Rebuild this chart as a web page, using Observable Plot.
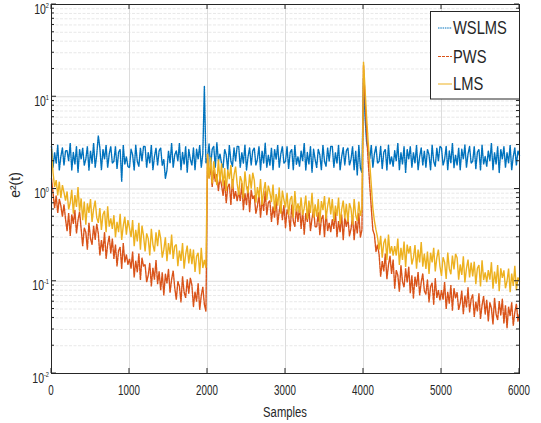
<!DOCTYPE html>
<html><head><meta charset="utf-8">
<script src="https://cdn.jsdelivr.net/npm/d3@7"></script>
<script src="https://cdn.jsdelivr.net/npm/@observablehq/plot@0.6"></script>
<style>
html,body{margin:0;padding:0;background:#fff;}
svg text{font-family:"Liberation Sans",Arial,Helvetica,sans-serif;}
</style>
</head><body><div id="chart"></div>
<script>
// sample spacing of the values below
const step = 20;
// squared error e^2(t), one value every 20 samples (0..6000), 10 values per row
const wslms = [
 2.9,1.7,2.5,1.9,3.0,1.6,2.25,2.8,1.8,2.6,
 2.6,2.0,3.15,1.6,2.5,1.85,2.9,1.5,2.7,2.1,
 2.8,1.8,2.1,2.9,1.6,2.6,1.9,3.15,1.7,2.35,
 3.8,2.8,1.6,2.7,2.1,3.0,1.7,2.4,2.9,1.9,
 2.0,2.9,1.65,2.5,2.7,1.2,3.0,1.85,2.25,1.75,
 1.7,2.7,2.35,1.6,3.0,2.0,1.75,2.8,2.0,2.9,
 2.9,1.7,2.5,1.9,3.0,1.6,2.25,2.8,1.8,2.6,
 2.8,1.8,2.1,1.3,1.6,2.6,1.9,3.15,1.7,2.35,
 2.6,2.0,3.15,1.6,2.5,1.85,2.9,1.5,2.7,2.1,
 1.8,2.8,1.6,2.7,2.1,3.0,1.7,2.4,13.0,1.9,
 2.15,3.1,1.75,2.7,2.9,1.7,3.2,2.0,2.4,1.9,
 1.7,2.7,2.35,1.6,3.0,2.0,1.75,2.8,2.0,2.9,
 2.9,1.7,2.5,1.9,3.0,1.6,2.25,2.8,1.8,2.6,
 2.8,1.8,2.1,2.9,1.6,2.6,1.9,3.15,1.7,2.35,
 1.8,2.8,1.6,2.7,2.1,3.0,1.7,2.4,2.9,1.9,
 2.0,2.9,1.65,2.5,2.7,1.6,3.0,1.85,2.25,1.75,
 2.6,2.0,3.15,1.6,2.5,1.85,2.9,1.5,2.7,2.1,
 1.7,2.7,2.35,1.6,3.0,2.0,1.75,2.8,2.0,2.9,
 2.9,1.7,2.5,1.9,3.0,1.6,2.25,2.8,1.8,2.6,
 2.8,1.8,2.1,2.9,1.6,2.6,1.4,3.0,1.7,1.5,
 16.0,6.0,3.2,2.7,2.1,3.0,1.7,2.4,2.9,1.9,
 2.0,2.9,1.65,2.5,2.7,1.6,3.0,1.85,2.25,1.75,
 2.6,2.0,3.15,1.6,2.5,1.85,2.9,1.5,2.7,2.1,
 2.9,1.7,2.5,1.9,3.0,1.6,2.25,2.8,1.8,2.6,
 1.7,2.7,2.35,1.6,3.0,2.0,1.75,2.8,2.0,2.9,
 2.8,1.8,2.1,2.9,1.6,2.6,1.9,3.15,1.7,2.35,
 1.8,2.8,1.6,2.7,2.1,3.0,1.7,2.4,2.9,1.9,
 2.0,2.9,1.65,2.5,2.7,1.6,3.0,1.85,2.25,1.75,
 2.6,2.0,3.15,1.6,2.5,1.85,2.9,1.5,2.7,2.1,
 2.9,1.7,2.5,1.9,3.0,1.6,2.25,2.8,1.8,2.6,
 2.3
];
const pws = [
 1.3,0.9,0.62,0.85,0.55,0.78,0.66,0.5,0.68,0.47,
 0.35,0.55,0.31,0.53,0.42,0.59,0.33,0.46,0.57,0.37,
 0.24,0.38,0.34,0.22,0.43,0.29,0.25,0.40,0.28,0.42,
 0.33,0.19,0.28,0.21,0.34,0.175,0.25,0.31,0.2,0.29,
 0.175,0.25,0.145,0.215,0.235,0.137,0.26,0.16,0.195,0.152,
 0.175,0.137,0.21,0.11,0.167,0.125,0.2,0.103,0.18,0.145,
 0.152,0.098,0.116,0.158,0.088,0.14,0.104,0.17,0.093,0.128,
 0.08,0.125,0.07,0.12,0.095,0.135,0.075,0.105,0.13,0.085,
 0.063,0.1,0.088,0.059,0.113,0.076,0.066,0.105,0.074,0.109,
 0.091,0.053,0.077,0.06,0.095,0.049,0.07,0.087,0.056,0.047,
 2.4,1.3,1.75,1.05,1.6,1.2,1.45,0.95,1.35,1.1,
 0.85,1.24,0.7,1.05,1.14,0.67,1.28,0.78,0.95,0.74,
 0.94,0.74,1.15,0.59,0.9,0.67,1.07,0.56,0.98,0.78,
 0.85,0.54,0.65,0.88,0.49,0.78,0.58,0.95,0.52,0.71,
 0.75,0.44,0.64,0.49,0.78,0.41,0.58,0.73,0.46,0.67,
 0.38,0.6,0.53,0.35,0.68,0.45,0.39,0.63,0.44,0.65,
 0.37,0.58,0.32,0.55,0.44,0.62,0.35,0.48,0.6,0.39,
 0.39,0.56,0.32,0.47,0.52,0.3,0.58,0.35,0.43,0.34,
 0.47,0.37,0.57,0.3,0.45,0.34,0.53,0.28,0.49,0.39,
 0.49,0.31,0.37,0.51,0.28,0.45,0.33,0.55,0.3,0.36,
 22,9,4,2.0,1.1,0.62,0.36,0.32,0.21,0.25,
 0.195,0.112,0.165,0.128,0.2,0.105,0.15,0.188,0.12,0.172,
 0.083,0.132,0.116,0.077,0.149,0.099,0.086,0.138,0.097,0.143,
 0.074,0.116,0.065,0.112,0.088,0.126,0.07,0.098,0.121,0.079,
 0.072,0.104,0.059,0.088,0.096,0.056,0.108,0.066,0.08,0.062,
 0.08,0.063,0.098,0.05,0.077,0.057,0.091,0.048,0.084,0.066,
 0.076,0.049,0.058,0.079,0.044,0.07,0.052,0.085,0.046,0.064,
 0.072,0.041,0.06,0.047,0.074,0.039,0.055,0.069,0.044,0.063,
 0.037,0.059,0.051,0.034,0.066,0.044,0.038,0.061,0.043,0.064,
 0.035,0.055,0.031,0.053,0.042,0.059,0.033,0.046,0.057,0.037,
 0.045
];
const lms = [
 2.7,1.5,1.05,1.25,0.85,1.2,0.8,1.1,0.92,0.75,
 0.94,0.6,0.71,0.98,0.54,0.86,0.64,1.05,0.57,0.79,
 0.46,0.73,0.41,0.7,0.55,0.78,0.44,0.61,0.75,0.49,
 0.43,0.62,0.36,0.53,0.58,0.34,0.65,0.39,0.48,0.37,
 0.52,0.3,0.44,0.34,0.54,0.28,0.4,0.5,0.32,0.46,
 0.38,0.3,0.46,0.24,0.36,0.27,0.43,0.22,0.4,0.31,
 0.21,0.33,0.29,0.19,0.37,0.25,0.21,0.34,0.24,0.36,
 0.29,0.18,0.22,0.3,0.165,0.26,0.195,0.32,0.175,0.24,
 0.25,0.146,0.215,0.166,0.26,0.137,0.195,0.244,0.156,0.224,
 0.153,0.22,0.126,0.187,0.204,0.119,0.23,0.139,0.17,0.14,
 2.4,1.3,2.2,1.15,2.0,1.45,1.1,2.1,1.2,1.9,
 1.08,1.69,0.95,1.62,1.28,1.82,1.01,1.42,1.75,1.15,
 0.86,1.38,1.21,0.8,1.55,1.04,0.9,1.44,1.01,1.5,
 1.24,0.71,1.05,0.81,1.28,0.67,0.95,1.19,0.76,1.09,
 0.92,0.72,1.12,0.58,0.88,0.66,1.04,0.54,0.96,0.76,
 0.63,0.91,0.52,0.77,0.84,0.49,0.95,0.57,0.7,0.55,
 0.81,0.52,0.62,0.85,0.47,0.75,0.55,0.91,0.49,0.68,
 0.5,0.78,0.43,0.74,0.59,0.84,0.47,0.65,0.81,0.53,
 0.78,0.45,0.66,0.51,0.81,0.42,0.6,0.75,0.48,0.69,
 0.44,0.7,0.61,0.41,0.78,0.52,0.45,0.73,0.51,0.62,
 24,12,6,3.2,1.9,1.1,0.62,0.45,0.36,0.3,
 0.22,0.31,0.18,0.26,0.29,0.17,0.32,0.2,0.24,0.19,
 0.24,0.19,0.29,0.15,0.23,0.17,0.27,0.143,0.25,0.2,
 0.24,0.152,0.18,0.247,0.137,0.22,0.16,0.266,0.144,0.2,
 0.136,0.21,0.12,0.204,0.16,0.23,0.128,0.18,0.22,0.145,
 0.114,0.182,0.16,0.106,0.205,0.137,0.119,0.19,0.134,0.198,
 0.18,0.104,0.152,0.117,0.186,0.097,0.138,0.172,0.11,0.159,
 0.113,0.163,0.093,0.138,0.15,0.088,0.169,0.103,0.125,0.098,
 0.132,0.104,0.161,0.083,0.127,0.094,0.15,0.078,0.138,0.109,
 0.131,0.084,0.1,0.137,0.076,0.121,0.089,0.147,0.08,0.11,
 0.1
];
const seriesNames = ["WSLMS", "PWS", "LMS"];
const seriesColors = ["#0072BD", "#D95319", "#EDB120"];
const seriesDash = ["1.5,0.8", "3,1", null];
const xTicks = [0, 1000, 2000, 3000, 4000, 5000, 6000];
const yTicks = [0.01, 0.1, 1, 10, 100];
const yTickExps = ["-2", "-1", "0", "1", "2"];
const minorMultipliers = [2, 3, 4, 5, 6, 7, 8, 9];
const xLabel = "Samples";
const yLabel = "e²(t)";

const minorTicks = yTicks.slice(0, -1).flatMap(d => minorMultipliers.map(m => d * m));
const toRows = arr => arr.map((v, i) => ({x: i * step, y: v}));
const seriesData = [wslms, pws, lms].map(toRows);

const lineMarks = seriesData.map((rows, i) =>
  Plot.line(rows, {x: "x", y: "y", stroke: seriesColors[i], strokeWidth: 1.4,
    strokeDasharray: seriesDash[i] || undefined, strokeLinejoin: "miter"}));

const svgNode = Plot.plot({
  width: 541, height: 423,
  marginLeft: 51, marginRight: 22, marginTop: 4, marginBottom: 50,
  style: {background: "#fff", overflow: "visible"},
  x: {domain: [0, 6000], axis: null},
  y: {type: "log", domain: [0.01, 100], axis: null},
  marks: [
    Plot.ruleY(minorTicks, {stroke: "#e2e2e2", strokeDasharray: "3,1.5", strokeWidth: 0.8}),
    Plot.ruleY(yTicks, {stroke: "#dcdcdc", strokeWidth: 1}),
    Plot.ruleX(xTicks, {stroke: "#dcdcdc", strokeWidth: 1}),
    ...lineMarks,
    Plot.frame({stroke: "#262626", strokeWidth: 1})
  ]
});
document.getElementById("chart").appendChild(svgNode);

const xs = svgNode.scale("x"), ys = svgNode.scale("y");
const svg = d3.select(svgNode);
const L = xs.apply(0), R = xs.apply(6000), T = ys.apply(100), B = ys.apply(0.01);
const ink = "#262626";

// inward ticks on all four sides
const tg = svg.append("g").attr("stroke", ink).attr("stroke-width", 1);
xTicks.forEach(t => {
  const px = xs.apply(t);
  tg.append("line").attr("x1", px).attr("x2", px).attr("y1", B).attr("y2", B - 5);
  tg.append("line").attr("x1", px).attr("x2", px).attr("y1", T).attr("y2", T + 5);
});
yTicks.forEach(t => {
  const py = ys.apply(t);
  tg.append("line").attr("x1", L).attr("x2", L + 5).attr("y1", py).attr("y2", py);
  tg.append("line").attr("x1", R).attr("x2", R - 5).attr("y1", py).attr("y2", py);
});
minorTicks.forEach(t => {
  const py = ys.apply(t);
  tg.append("line").attr("x1", L).attr("x2", L + 3).attr("y1", py).attr("y2", py);
  tg.append("line").attr("x1", R).attr("x2", R - 3).attr("y1", py).attr("y2", py);
});

function addText(x, y, str, size, sx, anchor) {
  return svg.append("text")
    .attr("transform", `translate(${x},${y}) scale(${sx},1)`)
    .attr("text-anchor", anchor).attr("font-size", size).attr("fill", ink).text(str);
}

// x tick labels
xTicks.forEach(t => addText(xs.apply(t), B + 22, String(t), 14, 0.7, "middle"));
// y tick labels with superscript exponents
yTicks.forEach((t, i) => {
  const py = ys.apply(t);
  const tx = svg.append("text")
    .attr("transform", `translate(${L - 2},${py + 9.5}) scale(0.75,1)`)
    .attr("text-anchor", "end").attr("fill", ink);
  tx.append("tspan").attr("font-size", 14).text("10");
  tx.append("tspan").attr("font-size", 7.5).attr("dy", -6).text(yTickExps[i]);
});
// axis labels
addText((L + R) / 2, B + 44, xLabel, 15, 0.75, "middle");
svg.append("text")
  .attr("transform", `translate(19.5,185) rotate(-90)`)
  .attr("text-anchor", "middle").attr("font-size", 14).attr("fill", ink).text(yLabel);

// legend
const lg = svg.append("g");
lg.append("rect").attr("x", 430.5).attr("y", 11.5).attr("width", 89).attr("height", 87.5)
  .attr("fill", "#fff").attr("stroke", ink).attr("stroke-width", 1);
const legendY = [28, 56.5, 84];
seriesNames.forEach((name, i) => {
  lg.append("line").attr("x1", 438).attr("x2", 452).attr("y1", legendY[i]).attr("y2", legendY[i])
    .attr("stroke", seriesColors[i]).attr("stroke-width", 1)
    .attr("stroke-dasharray", seriesDash[i]);
  addText(453, legendY[i] + 6.4, name, 17.5, 0.84, "start");
});
</script>
</body></html>
